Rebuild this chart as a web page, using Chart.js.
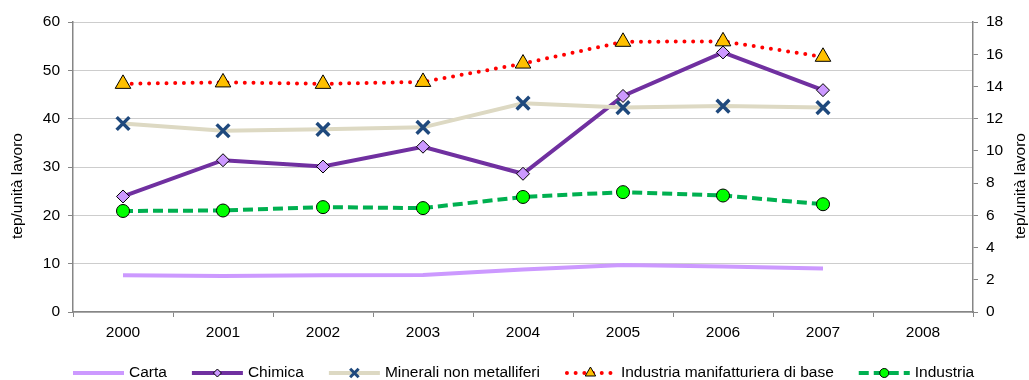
<!DOCTYPE html>
<html>
<head>
<meta charset="utf-8">
<script src="https://cdn.jsdelivr.net/npm/chart.js@4.4.0/dist/chart.umd.min.js"></script>
<style>
  body { margin: 0; background: #fff; }
  #wrap { width: 1029px; height: 380px; }
</style>
</head>
<body>
<div id="wrap"><canvas id="myChart"></canvas></div>
<script>
// dati (tep/unità lavoro, asse sinistro)
var anni = ['2000', '2001', '2002', '2003', '2004', '2005', '2006', '2007', '2008'];
var carta = [7.6, 7.45, 7.6, 7.65, 8.8, 9.7, 9.4, 9.0, null];
var chimica = [23.9, 31.4, 30.1, 34.2, 28.6, 44.7, 53.7, 45.9, null];
var minerali = [39.0, 37.5, 37.8, 38.2, 43.2, 42.3, 42.6, 42.3, null];
var manifatturiera = [47.2, 47.5, 47.2, 47.6, 51.4, 55.9, 56.0, 52.8, null];
var industria = [20.9, 21.0, 21.7, 21.5, 23.8, 24.8, 24.1, 22.3, null];

var tickSx = [0, 10, 20, 30, 40, 50, 60];
var tickDx = [0, 2, 4, 6, 8, 10, 12, 14, 16, 18];

var titoloAsse = 'tep/unità lavoro';
var FONT = '"Liberation Sans", Arial, sans-serif';
var FSIZE = 15.5;

Chart.defaults.font.family = FONT;
Chart.defaults.font.size = FSIZE;
Chart.defaults.color = '#000';

// legenda disegnata a mano: linea + marcatore come in Excel
var legendPlugin = {
  id: 'excelLegend',
  afterDraw: function (chart) {
    var ctx = chart.ctx;
    var y = 373;
    var x = 73;
    ctx.save();
    ctx.font = FSIZE + 'px ' + FONT;
    ctx.textBaseline = 'middle';
    ctx.fillStyle = '#000';
    chart.data.datasets.forEach(function (ds) {
      var w = 51;
      ctx.save();
      ctx.beginPath();
      ctx.strokeStyle = ds.borderColor;
      ctx.lineWidth = ds.borderWidth;
      ctx.lineCap = ds.borderCapStyle || 'butt';
      ctx.setLineDash(ds.legendDash || []);
      ctx.moveTo(x + (ds.legendInset || 0), y);
      ctx.lineTo(x + w - (ds.legendInset || 0), y);
      ctx.stroke();
      ctx.restore();
      if (ds.pointStyle && ds.pointRadius > 0) {
        ctx.save();
        ctx.fillStyle = ds.pointBackgroundColor;
        ctx.strokeStyle = ds.pointBorderColor;
        ctx.lineWidth = ds.legendBorder || ds.pointBorderWidth;
        Chart.helpers.drawPoint(ctx, {
          pointStyle: ds.pointStyle,
          radius: ds.legendRadius,
          rotation: 0,
          borderWidth: ds.legendBorder || ds.pointBorderWidth
        }, x + w / 2, y);
        ctx.restore();
      }
      ctx.fillStyle = '#000';
      ctx.fillText(ds.label, x + w + 5, y);
      x += w + 5 + ctx.measureText(ds.label).width + 25;
    });
    ctx.restore();
  }
};

// titoli degli assi, entrambi letti dal basso verso l'alto
var titlePlugin = {
  id: 'axisTitles',
  afterDraw: function (chart) {
    var ctx = chart.ctx;
    ctx.save();
    ctx.font = FSIZE + 'px ' + FONT;
    ctx.fillStyle = '#000';
    ctx.textAlign = 'center';
    ctx.textBaseline = 'middle';
    [18, 1021].forEach(function (cx) {
      ctx.save();
      ctx.translate(cx, 186);
      ctx.rotate(-Math.PI / 2);
      ctx.fillText(titoloAsse, 0, 0);
      ctx.restore();
    });
    ctx.restore();
  }
};

var ctx = document.getElementById('myChart').getContext('2d');
var myChart = new Chart(ctx, {
  type: 'line',
  data: {
    labels: anni,
    datasets: [{
      label: 'Carta',
      data: carta,
      borderColor: '#CC99FF',
      borderWidth: 4,
      pointRadius: 0,
      pointStyle: false,
      order: 5
    }, {
      label: 'Chimica',
      data: chimica,
      borderColor: '#7030A0',
      borderWidth: 4,
      pointStyle: 'rectRot',
      pointRadius: 6.5,
      pointHoverRadius: 6.5,
      pointBackgroundColor: '#CC99FF',
      pointBorderColor: '#000',
      pointBorderWidth: 1,
      legendRadius: 4,
      order: 4
    }, {
      label: 'Minerali non metalliferi',
      data: minerali,
      borderColor: '#DDD9C3',
      borderWidth: 4,
      pointStyle: 'crossRot',
      pointRadius: 9,
      pointHoverRadius: 9,
      pointBackgroundColor: '#1F497D',
      pointBorderColor: '#1F497D',
      pointBorderWidth: 3.5,
      legendRadius: 6,
      legendBorder: 3,
      order: 3
    }, {
      label: 'Industria manifatturiera di base',
      data: manifatturiera,
      borderColor: '#FF0000',
      borderWidth: 4,
      borderDash: [0, 8.7],
      borderCapStyle: 'round',
      legendDash: [0, 8.7],
      legendInset: 2,
      pointStyle: 'triangle',
      pointRadius: 9,
      pointHoverRadius: 9,
      pointBackgroundColor: '#FFC000',
      pointBorderColor: '#000',
      pointBorderWidth: 1,
      legendRadius: 6,
      order: 2
    }, {
      label: 'Industria',
      data: industria,
      borderColor: '#00B050',
      borderWidth: 4,
      borderDash: [10, 5],
      legendDash: [10, 5],
      pointStyle: 'circle',
      pointRadius: 6.5,
      pointHoverRadius: 6.5,
      pointBackgroundColor: '#00FF00',
      pointBorderColor: '#000',
      pointBorderWidth: 1,
      legendRadius: 4.5,
      order: 1
    }]
  },
  options: {
    responsive: true,
    maintainAspectRatio: false,
    animation: false,
    layout: { padding: { top: 22, left: 0, right: 0, bottom: 0 } },
    plugins: {
      legend: { display: false },
      tooltip: { enabled: false }
    },
    scales: {
      x: {
        offset: true,
        grid: {
          offset: true,
          drawOnChartArea: false,
          drawTicks: true,
          tickLength: 5,
          color: '#868686'
        },
        border: { color: '#868686', width: 1.5 },
        ticks: { padding: 6, maxRotation: 0, autoSkip: false },
        afterFit: function (s) { s.height = 68; }
      },
      y: {
        position: 'left',
        min: 0,
        max: 60,
        afterBuildTicks: function (s) {
          s.ticks = tickSx.map(function (v) { return { value: v }; });
        },
        grid: {
          color: '#9A9A9A',
          lineWidth: 1,
          tickLength: 5,
          tickColor: '#868686',
          tickBorderDash: []
        },
        border: { color: '#868686', width: 1.5, dash: [1, 1] },
        ticks: { padding: 8 },
        afterFit: function (s) { s.width = 73; }
      },
      y1: {
        position: 'right',
        min: 0,
        max: 18,
        afterBuildTicks: function (s) {
          s.ticks = tickDx.map(function (v) { return { value: v }; });
        },
        grid: {
          drawOnChartArea: false,
          tickLength: 5,
          color: '#868686'
        },
        border: { color: '#868686', width: 1.5 },
        ticks: { padding: 8 },
        afterFit: function (s) { s.width = 56; }
      }
    }
  },
  plugins: [legendPlugin, titlePlugin]
});
</script>
</body>
</html>
